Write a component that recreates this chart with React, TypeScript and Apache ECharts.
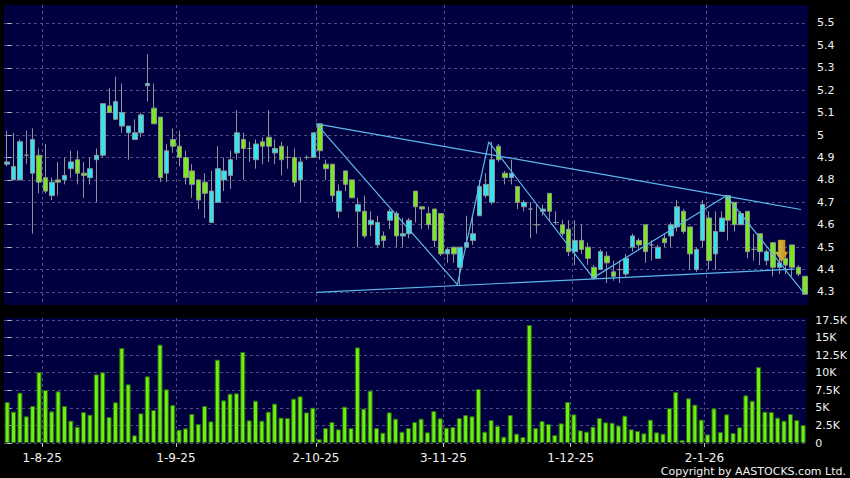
import React, { useEffect, useRef } from 'react';
import * as echarts from 'echarts';

// trading days by month (day lists), label format d-m-yy
const monthDays: [string, number[]][] = [
  ['7-25', [24, 25, 28, 29, 30, 31]],
  ['8-25', [1, 4, 5, 6, 7, 8, 11, 12, 13, 14, 15, 18, 19, 20, 21, 22, 25, 26, 27, 28, 29]],
  ['9-25', [1, 2, 3, 4, 5, 8, 9, 10, 11, 12, 15, 16, 17, 18, 19, 22, 23, 24, 25, 26, 29, 30]],
  ['10-25', [2, 3, 6, 8, 9, 10, 13, 14, 15, 16, 17, 20, 21, 22, 23, 24, 27, 28, 30, 31]],
  ['11-25', [3, 4, 5, 6, 7, 10, 11, 12, 13, 14, 17, 18, 19, 20, 21, 24, 25, 26, 27, 28]],
  ['12-25', [1, 2, 3, 4, 5, 8, 9, 10, 11, 12, 15, 16, 17, 18, 19, 22, 23, 24, 29, 30, 31]],
  ['1-26', [2, 5, 6, 7, 8, 9, 12, 13, 14, 15, 16, 19, 20, 21, 22, 23]],
];
const dates: string[] = monthDays.flatMap(([m, ds]) => ds.map((d) => `${d}-${m}`));

// [open, close, low, high]
const ohlc: number[][] = [
  [4.87, 4.88, 4.86, 5.02], [4.80, 4.86, 4.80, 5.01], [4.80, 4.97, 4.80, 4.98], [4.91, 4.91, 4.87, 5.02],
  [4.83, 4.98, 4.56, 5.03], [4.91, 4.79, 4.74, 4.94], [4.81, 4.75, 4.74, 4.96], [4.73, 4.79, 4.71, 4.81],
  [4.80, 4.79, 4.73, 4.88], [4.80, 4.82, 4.78, 4.90], [4.85, 4.88, 4.81, 4.93], [4.89, 4.83, 4.78, 4.93],
  [4.83, 4.82, 4.72, 4.88], [4.81, 4.85, 4.78, 4.90], [4.89, 4.91, 4.70, 4.94], [4.91, 5.14, 4.90, 5.14],
  [5.13, 5.10, 5.10, 5.21], [5.07, 5.15, 5.07, 5.26], [5.04, 5.10, 5.01, 5.23], [5.01, 5.04, 4.89, 5.04],
  [4.98, 5.01, 4.98, 5.07], [5.01, 5.09, 4.99, 5.10], [5.22, 5.23, 5.15, 5.36], [5.12, 5.05, 5.05, 5.23],
  [5.08, 4.81, 4.79, 5.08], [4.83, 4.93, 4.79, 4.96], [4.98, 4.95, 4.92, 5.03], [4.95, 4.90, 4.86, 5.02],
  [4.90, 4.81, 4.78, 4.93], [4.84, 4.78, 4.72, 4.87], [4.80, 4.71, 4.67, 4.80], [4.79, 4.74, 4.63, 4.83],
  [4.61, 4.75, 4.61, 4.84], [4.70, 4.85, 4.70, 4.95], [4.80, 4.84, 4.75, 4.90], [4.82, 4.89, 4.76, 4.93],
  [4.92, 5.01, 4.89, 5.11], [4.98, 4.94, 4.80, 5.01], [4.94, 4.94, 4.88, 4.97], [4.89, 4.96, 4.85, 4.98],
  [4.97, 4.95, 4.87, 4.99], [4.99, 4.95, 4.88, 5.11], [4.92, 4.94, 4.87, 4.98], [4.95, 4.89, 4.82, 4.97],
  [4.90, 4.90, 4.85, 4.95], [4.90, 4.79, 4.77, 4.94], [4.80, 4.88, 4.70, 4.90], [4.90, 4.90, 4.89, 4.91],
  [4.90, 5.01, 4.90, 5.01], [5.05, 4.93, 4.89, 5.05], [4.87, 4.85, 4.80, 4.89], [4.87, 4.73, 4.70, 4.87],
  [4.66, 4.75, 4.63, 4.78], [4.84, 4.78, 4.75, 4.84], [4.80, 4.72, 4.72, 4.80], [4.66, 4.69, 4.50, 4.72],
  [4.66, 4.55, 4.54, 4.73], [4.60, 4.62, 4.55, 4.66], [4.51, 4.61, 4.50, 4.64], [4.55, 4.53, 4.50, 4.57],
  [4.62, 4.66, 4.58, 4.67], [4.65, 4.55, 4.50, 4.66], [4.55, 4.56, 4.50, 4.63], [4.56, 4.62, 4.54, 4.63],
  [4.75, 4.68, 4.61, 4.75], [4.68, 4.67, 4.58, 4.68], [4.65, 4.60, 4.58, 4.68], [4.67, 4.53, 4.50, 4.67],
  [4.65, 4.47, 4.46, 4.65], [4.47, 4.49, 4.43, 4.50], [4.50, 4.47, 4.43, 4.50], [4.41, 4.50, 4.33, 4.50],
  [4.50, 4.52, 4.50, 4.64], [4.53, 4.56, 4.51, 4.64], [4.64, 4.77, 4.64, 4.80], [4.73, 4.78, 4.72, 4.83],
  [4.70, 4.89, 4.69, 4.97], [4.95, 4.89, 4.88, 4.96], [4.83, 4.81, 4.78, 4.84], [4.81, 4.83, 4.78, 4.89],
  [4.77, 4.70, 4.67, 4.77], [4.68, 4.70, 4.66, 4.71], [4.67, 4.67, 4.54, 4.70], [4.60, 4.60, 4.56, 4.69],
  [4.66, 4.67, 4.64, 4.69], [4.74, 4.66, 4.62, 4.74], [4.61, 4.61, 4.60, 4.66], [4.60, 4.56, 4.55, 4.62],
  [4.58, 4.48, 4.46, 4.62], [4.48, 4.53, 4.42, 4.62], [4.53, 4.49, 4.47, 4.60], [4.50, 4.45, 4.42, 4.52],
  [4.41, 4.36, 4.355, 4.42], [4.40, 4.48, 4.40, 4.49], [4.46, 4.43, 4.34, 4.48], [4.39, 4.37, 4.35, 4.44],
  [4.40, 4.40, 4.34, 4.44], [4.38, 4.45, 4.37, 4.47], [4.50, 4.55, 4.48, 4.56], [4.53, 4.51, 4.49, 4.54],
  [4.60, 4.48, 4.43, 4.60], [4.51, 4.51, 4.44, 4.53], [4.45, 4.50, 4.45, 4.51], [4.54, 4.52, 4.50, 4.56],
  [4.55, 4.60, 4.50, 4.61], [4.59, 4.68, 4.57, 4.71], [4.66, 4.57, 4.56, 4.67], [4.59, 4.47, 4.40, 4.59],
  [4.40, 4.49, 4.39, 4.50], [4.53, 4.69, 4.50, 4.71], [4.63, 4.44, 4.40, 4.66], [4.47, 4.57, 4.40, 4.66],
  [4.57, 4.63, 4.57, 4.66], [4.73, 4.62, 4.53, 4.73], [4.70, 4.60, 4.57, 4.70], [4.60, 4.65, 4.60, 4.66],
  [4.66, 4.48, 4.45, 4.66], [4.49, 4.49, 4.44, 4.56], [4.56, 4.48, 4.42, 4.56], [4.44, 4.48, 4.42, 4.49],
  [4.52, 4.41, 4.37, 4.52], [4.41, 4.43, 4.38, 4.45], [4.45, 4.42, 4.38, 4.48], [4.51, 4.41, 4.37, 4.51],
  [4.41, 4.38, 4.37, 4.42], [4.37, 4.29, 4.29, 4.37],
];

// volume in thousands
const volume: number[] = [
  5.84, 4.46, 7.16, 3.80, 5.27, 10.1, 7.54, 4.51, 7.35, 5.27, 3.18, 2.32, 4.41, 4.03, 9.77, 10.06,
  3.70, 5.79, 13.52, 8.35, 1.09, 4.22, 9.49, 4.70, 14.0, 7.64, 5.41, 1.90, 2.09, 4.13, 2.70, 5.27,
  3.08, 11.86, 6.07, 7.02, 7.07, 12.95, 3.23, 6.02, 3.18, 4.46, 5.60, 3.61, 3.56, 6.31, 6.64, 4.36,
  5.03, 0.57, 2.13, 2.99, 1.95, 5.17, 2.13, 13.6, 4.89, 7.45, 2.13, 1.47, 4.36, 3.46, 1.61, 2.13,
  2.99, 3.46, 1.52, 4.55, 3.51, 2.18, 2.28, 3.56, 3.98, 3.80, 7.69, 1.61, 3.27, 2.42, 0.90, 3.98,
  1.33, 0.85, 16.8, 2.13, 3.13, 2.70, 1.14, 2.80, 5.84, 4.08, 1.80, 1.61, 2.32, 3.56, 2.94, 2.89,
  2.47, 3.89, 1.95, 1.71, 1.38, 3.32, 1.52, 1.33, 4.98, 7.26, 0.43, 6.36, 5.46, 3.32, 1.23, 4.93,
  1.57, 4.08, 1.42, 2.23, 6.78, 6.02, 10.8, 4.46, 4.41, 3.61, 3.18, 4.13, 3.27, 2.56,
];

const priceTicks: number[] = [4.3, 4.4, 4.5, 4.6, 4.7, 4.8, 4.9, 5, 5.1, 5.2, 5.3, 5.4, 5.5];
const volTicks: number[] = [0, 2.5, 5, 7.5, 10, 12.5, 15, 17.5];
const dateTickIndex: number[] = [6, 27, 49, 69, 89, 110];

// trend line vertices: [bar position, price]
const upperTrend: number[][] = [[48.45, 5.05], [124.4, 4.668]];
const lowerTrend: number[][] = [[48.45, 4.298], [123.4, 4.402]];
const zigzag: number[][] = [[48.45, 5.05], [70.55, 4.333], [75.47, 4.97], [91.82, 4.363], [112.7, 4.729], [125.0, 4.29]];
const arrowAt: number[] = [121.37, 4.483];

const CYAN = '#33e3f0';
const GREEN = '#7ae81e';
const WICK = '#8c9494';
const VOL = '#6cf012';
const LINE = '#5cb8ea';
const PANEL = '#000040';
const gridLine = { color: '#4e4e80', type: [3, 3] as any, width: 1 };
const FONT = 'DejaVu Sans';

export default function App() {
  const ref = useRef<HTMLDivElement>(null);
  useEffect(() => {
    if (!ref.current) return;
    const chart = echarts.init(ref.current, undefined, { renderer: 'svg' });
    const xTickVals = dateTickIndex.map((i) => i - 0.5);
    const option: any = {
      animation: false,
      backgroundColor: '#000000',
      textStyle: { fontFamily: FONT },
      grid: [
        { left: 4, top: 5, width: 804, height: 300, show: true, backgroundColor: PANEL, borderWidth: 0 },
        { left: 4, top: 318, width: 804, height: 125, show: true, backgroundColor: PANEL, borderWidth: 0 },
      ],
      xAxis: [
        { type: 'category', gridIndex: 0, data: dates, boundaryGap: true, show: false },
        { type: 'category', gridIndex: 1, data: dates, boundaryGap: true, show: false },
        {
          type: 'value', gridIndex: 0, min: -0.5, max: 125.5,
          axisLine: { show: false },
          axisTick: { show: false, customValues: xTickVals },
          axisLabel: { show: false },
          splitLine: { show: true, lineStyle: gridLine },
        },
        {
          type: 'value', gridIndex: 1, min: -0.5, max: 125.5, position: 'bottom',
          axisLine: { show: false },
          axisTick: { show: true, customValues: xTickVals, length: 4, lineStyle: { color: '#c8c8c8' } },
          axisLabel: {
            customValues: xTickVals, color: '#f0f0f0', fontSize: 12, fontFamily: FONT, margin: 9,
            formatter: (v: number) => dates[Math.round(v + 0.5)],
          },
          splitLine: { show: true, lineStyle: gridLine },
        },
      ],
      yAxis: [
        {
          type: 'value', gridIndex: 0, position: 'right', min: 4.242, max: 5.58,
          axisLine: { show: false },
          axisTick: { show: true, customValues: priceTicks, length: 4, lineStyle: { color: '#c8c8c8' } },
          axisLabel: { customValues: priceTicks, color: '#f0f0f0', fontSize: 11, fontFamily: FONT, margin: 9, formatter: (v: number) => String(v) },
          splitLine: { show: true, lineStyle: gridLine },
        },
        {
          type: 'value', gridIndex: 1, position: 'right', min: 0, max: 17.785,
          axisLine: { show: false },
          axisTick: { show: true, customValues: volTicks, length: 4, lineStyle: { color: '#c8c8c8' } },
          axisLabel: { customValues: volTicks, color: '#f0f0f0', fontSize: 11, fontFamily: FONT, margin: 9, formatter: (v: number) => (v === 0 ? '0' : `${v}K`) },
          splitLine: { show: true, lineStyle: gridLine },
        },
      ],
      series: [
        {
          type: 'candlestick', xAxisIndex: 0, yAxisIndex: 0, data: ohlc, barWidth: 5,
          itemStyle: { color: CYAN, color0: GREEN, borderColor: WICK, borderColor0: WICK, borderWidth: 1 },
        },
        {
          type: 'bar', xAxisIndex: 1, yAxisIndex: 1, data: volume, barWidth: 5,
          itemStyle: { color: VOL, borderColor: '#2f6a12', borderWidth: 1 },
        },
        { type: 'line', xAxisIndex: 2, yAxisIndex: 0, data: upperTrend, symbol: 'none', lineStyle: { color: LINE, width: 1.2 }, z: 4 },
        { type: 'line', xAxisIndex: 2, yAxisIndex: 0, data: lowerTrend, symbol: 'none', lineStyle: { color: LINE, width: 1.2 }, z: 4 },
        { type: 'line', xAxisIndex: 2, yAxisIndex: 0, data: zigzag, symbol: 'none', lineStyle: { color: LINE, width: 1.2 }, z: 4 },
        {
          type: 'scatter', xAxisIndex: 2, yAxisIndex: 0, data: [arrowAt], z: 6,
          symbol: 'path://M3,0 L10,0 L10,12 L13,12 L6.5,22 L0,12 L3,12 Z',
          symbolSize: [13, 22],
          itemStyle: {
            color: new echarts.graphic.LinearGradient(0, 0, 1, 0, [
              { offset: 0, color: '#fff27a' },
              { offset: 0.5, color: '#ffd22e' },
              { offset: 1, color: '#f29e00' },
            ]),
            borderColor: '#c98400', borderWidth: 0.5,
          },
        },
      ],
      graphic: [
        {
          type: 'text', x: 846, y: 471,
          style: { text: 'Copyright by AASTOCKS.com Ltd.', fill: '#f0f0f0', font: `11px "${FONT}"`, align: 'right', verticalAlign: 'middle' },
        },
      ],
    };
    chart.setOption(option);
    return () => chart.dispose();
  }, []);
  return <div ref={ref} style={{ position: 'fixed', left: 0, top: 0, width: 850, height: 478 }} />;
}
